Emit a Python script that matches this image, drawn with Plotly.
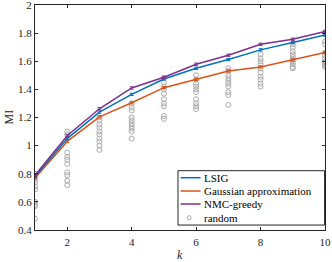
import plotly.graph_objects as go

k = [1, 2, 3, 4, 5, 6, 7, 8, 9, 10]
lsig = [0.78, 1.05, 1.238, 1.364, 1.474, 1.55, 1.612, 1.681, 1.733, 1.786]
gauss = [0.77, 1.03, 1.205, 1.305, 1.412, 1.471, 1.531, 1.559, 1.609, 1.662]
nmc = [0.79, 1.07, 1.262, 1.41, 1.486, 1.579, 1.643, 1.721, 1.757, 1.812]
err = [0.008] * 10

random_vals = [
    [0.80, 0.78, 0.76, 0.74, 0.71, 0.69, 0.60, 0.58, 0.57, 0.48],
    [1.10, 1.08, 0.95, 0.92, 0.90, 0.87, 0.81, 0.79, 0.75, 0.72],
    [1.20, 1.18, 1.15, 1.13, 1.10, 1.08, 1.05, 1.03, 1.00, 0.97],
    [1.30, 1.27, 1.25, 1.20, 1.18, 1.16, 1.14, 1.12, 1.10, 1.05],
    [1.48, 1.45, 1.42, 1.40, 1.37, 1.33, 1.30, 1.28, 1.21, 1.19],
    [1.50, 1.47, 1.44, 1.42, 1.40, 1.38, 1.33, 1.30, 1.28, 1.26],
    [1.55, 1.53, 1.50, 1.48, 1.46, 1.44, 1.42, 1.38, 1.36, 1.29],
    [1.65, 1.62, 1.60, 1.58, 1.55, 1.52, 1.49, 1.47, 1.44, 1.42],
    [1.72, 1.70, 1.67, 1.65, 1.63, 1.61, 1.60, 1.58, 1.56, 1.55],
    [1.74, 1.72, 1.66, 1.64, 1.62, 1.60, 1.59, 1.58, 1.57, 1.56],
]

x_ticks = [2, 4, 6, 8, 10]
y_ticks = [0.4, 0.6, 0.8, 1.0, 1.2, 1.4, 1.6, 1.8, 2.0]
y_ticktext = ["0.4", "0.6", "0.8", "1", "1.2", "1.4", "1.6", "1.8", "2"]

legend_names = ["LSIG", "Gaussian approximation", "NMC-greedy", "random"]

FONT = "Liberation Serif"
C_LSIG, C_GAUSS, C_NMC, C_RAND = "#0072BD", "#D95319", "#7E2F8E", "#ababab"

rx, ry = [], []
for kk, vals in zip(k, random_vals):
    for v in vals:
        rx.append(kk)
        ry.append(v)

fig = go.Figure()
fig.add_trace(go.Scatter(x=rx, y=ry, mode="markers", name=legend_names[3],
                         marker=dict(symbol="circle-open", size=5, color=C_RAND,
                                     line=dict(width=1, color=C_RAND))))
fig.add_trace(go.Scatter(x=k, y=gauss, mode="lines", name=legend_names[1],
                         line=dict(color=C_GAUSS, width=1.5),
                         error_y=dict(type="data", array=err, width=2, thickness=1, color=C_GAUSS)))
fig.add_trace(go.Scatter(x=k, y=lsig, mode="lines", name=legend_names[0],
                         line=dict(color=C_LSIG, width=1.5),
                         error_y=dict(type="data", array=err, width=2, thickness=1, color=C_LSIG)))
fig.add_trace(go.Scatter(x=k, y=nmc, mode="lines", name=legend_names[2],
                         line=dict(color=C_NMC, width=1.5),
                         error_y=dict(type="data", array=err, width=2, thickness=1, color=C_NMC)))

# compact MATLAB-style legend drawn in paper coordinates
shapes = [dict(type="rect", xref="paper", yref="paper", x0=0.493, x1=0.9985,
               y0=0.022, y1=0.2636, fillcolor="white", line=dict(color="#262626", width=1),
               layer="above")]
entry_y = [0.2324, 0.1733, 0.1156, 0.0547]
entry_col = [C_LSIG, C_GAUSS, C_NMC]
annotations = []
for i, name in enumerate(legend_names):
    yy = entry_y[i]
    if i < 3:
        shapes.append(dict(type="line", xref="paper", yref="paper", x0=0.502, x1=0.571,
                           y0=yy, y1=yy, line=dict(color=entry_col[i], width=1.5), layer="above"))
    else:
        shapes.append(dict(type="circle", xref="paper", yref="paper", xsizemode="pixel",
                           ysizemode="pixel", xanchor=0.532, yanchor=yy, x0=-2, x1=2, y0=-2, y1=2,
                           line=dict(color=C_RAND, width=1), layer="above"))
    annotations.append(dict(text=name, xref="paper", yref="paper", x=0.577, y=yy,
                            xanchor="left", yanchor="middle", showarrow=False,
                            font=dict(family=FONT, size=11, color="#000000")))

annotations += [
    dict(text="<i>k</i>", xref="paper", yref="paper", x=0.5, y=0, yshift=-25,
         xanchor="center", yanchor="middle", showarrow=False,
         font=dict(family=FONT, size=12, color="#262626")),
    dict(text="MI", xref="paper", yref="paper", x=0, y=0.5, xshift=-27,
         xanchor="center", yanchor="middle", textangle=-90, showarrow=False,
         font=dict(family=FONT, size=12, color="#262626")),
]

fig.update_layout(
    width=332, height=262,
    margin=dict(l=35, r=7, t=5, b=32),
    paper_bgcolor="white", plot_bgcolor="white",
    font=dict(family=FONT, size=11, color="#262626"),
    showlegend=False,
    xaxis=dict(range=[1, 10], tickvals=x_ticks, ticks="inside", ticklen=3,
               tickcolor="#262626", showline=True, linecolor="#262626", linewidth=1,
               mirror="ticks", showgrid=False, zeroline=False, automargin=False,
               ticklabeloverflow="allow", ticklabelstandoff=2),
    yaxis=dict(range=[0.4, 2], tickvals=y_ticks, ticktext=y_ticktext, ticks="inside",
               ticklen=3, tickcolor="#262626", showline=True, linecolor="#262626",
               linewidth=1, mirror="ticks", showgrid=False, zeroline=False, automargin=False,
               ticklabeloverflow="allow"),
    shapes=shapes,
    annotations=annotations,
)

fig.write_html("out.html", config={"displayModeBar": False},
               post_script="document.body.style.margin='0';document.body.style.padding='0';")
